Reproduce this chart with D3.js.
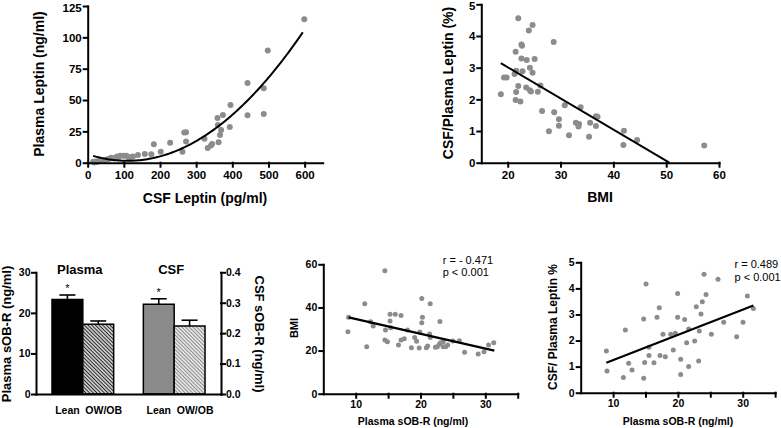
<!DOCTYPE html>
<html><head><meta charset="utf-8">
<script src="https://cdn.jsdelivr.net/npm/d3@7"></script>
<style>
html,body{margin:0;padding:0;background:#fff;}
svg{display:block;font-family:"Liberation Sans",Arial,Helvetica,sans-serif;}
</style></head><body>
<svg id="c" width="781" height="428"></svg>
<script>
// ---------- DATA ----------
// Panel A: CSF leptin (pg/ml) vs plasma leptin (ng/ml)
const csfLeptin = [15,18,22,25,30,38,48,56,60,65,73,81,85,90,99,107,112,120,125,139,158,176,183,202,228,262,267,272,272,323,332,341,344,359,360,362,366,369,374,393,395,442,442,487,487,498,599];
const plasmaLeptin = [0.8,0.2,1.0,0.5,1.3,1.5,2.1,3.0,3.2,4.0,3.5,4.9,4.5,5.6,5.5,5.5,4.6,4.3,4.9,6.2,6.9,6.7,14.7,8.8,16.0,8.8,24.0,24.2,17.0,19.2,11.7,13.8,14.9,35.7,30.0,16.3,22.1,26.0,38.0,28.5,46.0,63.6,37.8,59.3,38.8,89.6,114.4];
const fitA = [1.5, 110, 4.36e-4, 15, 595]; // quadratic fit: y0, x0, k, from, to
const ticksAx = [0,100,200,300,400,500,600];
const ticksAy = [0,25,50,75,100,125];

// Panel B: BMI vs CSF/plasma leptin (%)
const bmiB = [22.0,24.7,24.0,22.6,22.7,28.7,21.5,22.6,23.6,25.1,24.2,21.6,22.8,24.7,21.3,19.3,19.8,26.2,22.0,23.5,24.2,24.4,21.6,25.7,18.7,21.5,22.4,26.5,30.8,28.8,29.7,29.7,27.8,31.6,33.8,32.9,33.5,33.4,35.6,36.7,37.0,36.7,35.4,42.0,41.9,44.5,57.2];
const ratioB = [4.56,4.35,4.17,3.73,3.69,3.81,3.5,3.29,3.24,3.27,3.0,2.9,2.89,2.84,2.8,2.69,2.69,2.44,2.42,2.37,2.29,2.25,2.23,2.24,2.16,1.98,1.93,1.63,1.81,1.59,1.37,1.17,0.99,0.87,1.75,1.26,1.22,1.14,1.26,1.47,1.45,1.16,0.82,1.01,0.56,0.72,0.54];
const fitB = [[18.7,3.14],[50.6,0.0]];
const ticksBx = [20,30,40,50,60];
const ticksBy = [0,1,2,3,4,5];

// Panel C: sOB-R bars
const barGroups = ["Plasma","CSF"];
const barCats = ["Lean","OW/OB"];
const plasmaSobr = [23.3,17.2];
const plasmaSobrErr = [1.1,0.8];
const csfSobr = [0.295,0.2235];
const csfSobrErr = [0.018,0.019];
const signif = [true,false];
const ticksCl = [0,10,20,30];
const ticksCr = [0,0.1,0.2,0.3,0.4];

// Panel D: plasma sOB-R vs BMI
const sobrD = [8.8,8.9,11.7,11.4,12.3,12.7,14.5,14.6,14.5,14.9,15.3,15.4,15.3,16.1,17.0,16.6,17.0,17.5,18.0,18.6,19.1,19.4,19.8,19.9,20.2,20.3,20.2,20.9,21.1,21.5,21.4,21.5,22.3,22.6,22.9,23.0,23.1,23.5,23.9,24.2,23.5,25.0,26.0,26.8,28.9,29.8,30.5,31.3];
const bmiD = [28.7,35.4,21.8,41.7,33.4,31.4,57.0,29.5,24.9,24.1,33.7,30.6,36.8,36.8,36.3,22.6,24.9,25.5,29.5,21.3,26.1,24.3,21.2,28.6,44.2,35.4,32.9,21.3,22.1,41.7,27.7,26.1,21.5,21.8,22.9,33.5,23.6,21.8,21.8,22.6,24.1,24.4,24.6,19.2,18.4,19.5,22.6,23.6];
const fitD = [[8.9,35.4],[31.4,20.0]];
const statsD = ["r = - 0.471","p < 0.001"];

// Panel E: plasma sOB-R vs CSF/plasma leptin %
const sobrE = [8.96,9.06,11.89,12.40,12.92,11.58,14.72,14.87,14.72,15.08,15.54,15.54,16.31,16.77,17.13,17.24,18.06,17.70,18.88,19.60,19.29,19.96,19.96,20.43,20.43,21.04,21.35,21.66,21.66,22.59,22.84,23.2,23.3,23.56,23.77,24.03,24.34,25.16,26.19,27.06,29.07,30.05,30.72,31.65];
const ratioE = [1.60,0.83,2.40,1.13,0.87,0.58,0.55,1.16,2.83,4.17,1.74,1.43,1.15,2.89,3.26,1.43,1.38,2.24,2.24,2.28,1.64,3.80,2.89,1.28,0.70,2.81,1.92,2.44,1.00,1.98,3.30,1.22,2.37,3.02,3.49,4.54,3.77,2.24,4.35,2.70,2.15,2.70,3.71,3.23];
const fitE = [[8.96,1.15],[31.65,3.34]];
const statsE = ["r = 0.489","p < 0.001"];
const ticksDEx = [10,15,20,25,30,35];
const ticksDy = [0,20,40,60];
const ticksEy = [0,1,2,3,4,5];

// ---------- DRAW ----------
const svg = d3.select("#c");
const PT = "#8c8c8c";

function styleAxis(sel, fs) {
  sel.selectAll("path,line").attr("stroke","#000").attr("stroke-width",2).attr("stroke-linecap","square");
  sel.selectAll("text").attr("fill","#000").attr("font-size",fs).attr("font-weight","bold");
  sel.attr("font-family",null);
}

function title(x, y, txt, fs, rot, weight, anchor) {
  const t = svg.append("text").text(txt)
    .attr("font-size",fs).attr("font-weight",weight||"bold")
    .attr("text-anchor",anchor||"middle").attr("fill","#000");
  if (rot) t.attr("transform",`translate(${x},${y}) rotate(${rot})`);
  else t.attr("x",x).attr("y",y);
  return t;
}

function scatter(o) {
  const g = svg.append("g");
  const x = d3.scaleLinear(o.xDom, o.xRange);
  const y = d3.scaleLinear(o.yDom, o.yRange);
  g.selectAll("circle").data(d3.zip(o.xs, o.ys)).join("circle")
    .attr("cx", d => x(d[0])).attr("cy", d => y(d[1])).attr("r", o.r).attr("fill", PT);
  g.append("path").datum(o.fit)
    .attr("d", d3.line().x(d => x(d[0])).y(d => y(d[1])))
    .attr("fill","none").attr("stroke","#000").attr("stroke-width",o.lw);
  const xa = g.append("g").attr("transform",`translate(0,${o.yRange[0]})`)
    .call(d3.axisBottom(x).tickValues(o.xTicks).tickFormat(o.xFmt || d3.format("d"))
      .tickSize(4).tickSizeOuter(0).tickPadding(o.xPad));
  styleAxis(xa, o.fs);
  const ya = g.append("g").attr("transform",`translate(${o.xRange[0]},0)`)
    .call(d3.axisLeft(y).tickValues(o.yTicks).tickFormat(o.yFmt || d3.format("d"))
      .tickSize(4).tickSizeOuter(0).tickPadding(2));
  styleAxis(ya, o.fs);
  // keep the topmost tick label inside the picture
  ya.selectAll(".tick text").filter(d => y(d) < 8).attr("dy", "0.45em");
  return {x, y};
}

// Panel A
const fitAPts = d3.range(fitA[3], fitA[4] + 0.1, 5).map(v => [v, fitA[0] + fitA[2] * (v - fitA[1]) ** 2]);
scatter({xDom:[0,650], xRange:[87.7,322.7], yDom:[0,125], yRange:[162.7,6],
  xs:csfLeptin, ys:plasmaLeptin, fit:fitAPts, r:3, lw:2,
  xTicks:ticksAx, yTicks:ticksAy, fs:"11.5px", xPad:4});
title(205, 202.5, "CSF Leptin (pg/ml)", "14px");
title(44, 84, "Plasma Leptin (ng/ml)", "14px", -90);

// Panel B
scatter({xDom:[15,60], xRange:[481.3,719], yDom:[0,5], yRange:[162.7,4.3],
  xs:bmiB, ys:ratioB, fit:fitB, r:3, lw:2,
  xTicks:ticksBx, yTicks:ticksBy, fs:"11.5px", xPad:4});
title(600, 201.5, "BMI", "14px");
title(453, 83, "CSF/Plasma Leptin (%)", "14px", -90);

// Panel C: bars
(function(){
  const g = svg.append("g");
  const x0 = 36, x1 = 221, yb = 394, yt = 272.3;
  const gx = d3.scaleBand(barGroups, [x0, x1]).paddingInner(0.325).paddingOuter(0.175);
  const cx = d3.scaleBand(barCats, [0, gx.bandwidth()]);
  const yl = d3.scaleLinear([0,30], [yb, yt]);
  const yr = d3.scaleLinear([0,0.4], [yb, yt]);

  const defs = svg.append("defs");
  function hatch(id, col, gap) {
    const p = defs.append("pattern").attr("id", id).attr("patternUnits","userSpaceOnUse")
      .attr("width", gap).attr("height", gap).attr("patternTransform","rotate(-45)");
    p.append("rect").attr("width", gap).attr("height", gap).attr("fill","#fff");
    p.append("line").attr("x1", gap/2).attr("x2", gap/2).attr("y1", 0).attr("y2", gap)
      .attr("stroke", col).attr("stroke-width", 1.3);
  }
  hatch("hDark", "#222", 2.6);
  hatch("hLight", "#8a8a8a", 2.6);

  const rows = [];
  barGroups.forEach((grp, gi) => {
    const means = gi === 0 ? plasmaSobr : csfSobr;
    const errs = gi === 0 ? plasmaSobrErr : csfSobrErr;
    const ys = gi === 0 ? yl : yr;
    barCats.forEach((cat, ci) => {
      rows.push({grp, cat, gi, ci, m: means[ci], e: errs[ci], ys,
        fill: gi === 0 ? (ci === 0 ? "#000" : "url(#hDark)") : (ci === 0 ? "#8a8a8a" : "url(#hLight)")});
    });
  });
  const bx = d => gx(d.grp) + cx(d.cat);
  // error bars
  g.selectAll("line.err").data(rows).join("line").attr("class","err")
    .attr("x1", d => bx(d) + cx.bandwidth()/2).attr("x2", d => bx(d) + cx.bandwidth()/2)
    .attr("y1", d => d.ys(d.m)).attr("y2", d => d.ys(d.m + d.e))
    .attr("stroke","#000").attr("stroke-width",1.6);
  g.selectAll("line.cap").data(rows).join("line").attr("class","cap")
    .attr("x1", d => bx(d) + cx.bandwidth()/2 - 8).attr("x2", d => bx(d) + cx.bandwidth()/2 + 8)
    .attr("y1", d => d.ys(d.m + d.e)).attr("y2", d => d.ys(d.m + d.e))
    .attr("stroke","#000").attr("stroke-width",1.6);
  g.selectAll("rect.bar").data(rows).join("rect").attr("class","bar")
    .attr("x", d => bx(d)).attr("width", cx.bandwidth())
    .attr("y", d => d.ys(d.m)).attr("height", d => yb - d.ys(d.m))
    .attr("fill", d => d.fill).attr("stroke","#000").attr("stroke-width",1.5);
  // significance
  g.selectAll("text.sig").data(rows.filter(d => signif[d.ci])).join("text").attr("class","sig")
    .attr("x", d => bx(d) + cx.bandwidth()/2).attr("y", d => d.ys(d.m + d.e) - 3)
    .attr("text-anchor","middle").attr("font-size","11px").attr("fill","#000").text("*");
  // category labels
  g.selectAll("text.cat").data(rows).join("text").attr("class","cat")
    .attr("x", d => bx(d) + cx.bandwidth()/2 + (d.ci === 0 ? 0 : 5.5)).attr("y", 414)
    .attr("text-anchor","middle").attr("font-size","10.5px").attr("font-weight","bold").attr("fill","#000").text(d => d.cat);
  // group titles
  g.selectAll("text.grp").data(barGroups).join("text").attr("class","grp")
    .attr("x", d => gx(d) + gx.bandwidth()/2 - 3).attr("y", 273.5)
    .attr("text-anchor","middle").attr("font-size","13px").attr("font-weight","bold").attr("fill","#000").text(d => d);
  // axes
  const xa = g.append("g").attr("transform",`translate(0,${yb})`)
    .call(d3.axisBottom(d3.scaleLinear([0,1],[x0,x1])).tickValues([]).tickSizeOuter(0));
  styleAxis(xa, "10.5px");
  const la = g.append("g").attr("transform",`translate(${x0},0)`)
    .call(d3.axisLeft(yl).tickValues(ticksCl).tickSize(4).tickSizeOuter(0).tickPadding(1.5));
  styleAxis(la, "10.5px");
  const ra = g.append("g").attr("transform",`translate(${x1},0)`)
    .call(d3.axisRight(yr).tickValues(ticksCr).tickFormat(d3.format(".1f")).tickSize(4).tickSizeOuter(0).tickPadding(1));
  styleAxis(ra, "10.5px");
  title(10.5, 334, "Plasma sOB-R (ng/ml)", "13px", -90);
  title(255, 334, "CSF sOB-R (ng/ml)", "13px", 90);
})();

// Panel D
const fmtMajor = d => (d % 10 === 0 ? d3.format("d")(d) : "");
scatter({xDom:[5,35], xRange:[323.3,517.7], yDom:[0,60], yRange:[393.7,264.3],
  xs:sobrD, ys:bmiD, fit:fitD, r:2.5, lw:2.2,
  xTicks:ticksDEx, xFmt:fmtMajor, yTicks:ticksDy, fs:"10.5px", xPad:3});
title(413, 425, "Plasma sOB-R (ng/ml)", "10.5px");
title(297.7, 328, "BMI", "11px", -90);
statsD.forEach((s, i) => title(442.7, 263.5 + i * 12.5, s, "11px", 0, "normal", "start"));

// Panel E
scatter({xDom:[5,35], xRange:[580.7,775.1], yDom:[0,5], yRange:[392.7,262.3],
  xs:sobrE, ys:ratioE, fit:fitE, r:2.5, lw:2.2,
  xTicks:ticksDEx, xFmt:fmtMajor, yTicks:ticksEy, fs:"10.5px", xPad:3});
title(678, 425, "Plasma sOB-R (ng/ml)", "10.5px");
title(557, 327, "CSF/ Plasma Leptin %", "12px", -90);
statsE.forEach((s, i) => title(734.5, 268 + i * 12.5, s, "11px", 0, "normal", "start"));
</script>
</body></html>
